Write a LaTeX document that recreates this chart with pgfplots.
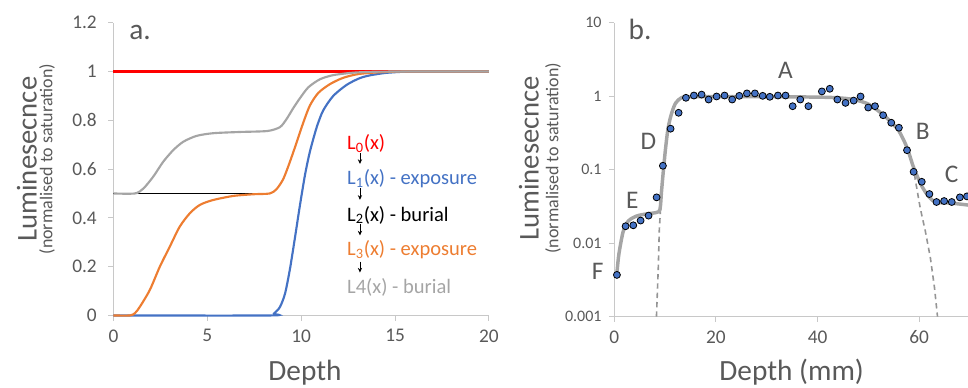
\documentclass[border=0pt]{standalone}
\usepackage{pgfplots}
\pgfplotsset{compat=1.18}
\usepackage{fontspec}
\setmainfont{Carlito}
\usetikzlibrary{arrows.meta}
\definecolor{axgray}{HTML}{C8C8C8}
\definecolor{txtgray}{HTML}{595959}
\definecolor{xlblue}{HTML}{4472C4}
\definecolor{xlorange}{HTML}{ED7D31}
\definecolor{xlgray}{HTML}{A5A5A5}
\definecolor{xlred}{HTML}{FF0000}
\definecolor{dashgray}{HTML}{959595}
\pgfplotsset{mystyle/.style={
  scale only axis, axis lines=left, axis line style={axgray, line width=0.8pt, -},
  tick align=outside, major tick length=4pt, tick style={axgray, line width=0.8pt},
  tick label style={text=txtgray, font=\fontsize{14.5}{17}\selectfont},
  xticklabel style={yshift=-3pt},
  /pgf/number format/assume math mode=true,
  clip=false,
}}
\pgfplotstableread{
x y
0 0
8.3 0
8.55 0.008
8.87 0.035
9.14 0.09
9.4 0.19
9.67 0.32
9.93 0.45
10.2 0.575
10.46 0.67
10.82 0.77
11.17 0.84
11.71 0.90
12.42 0.945
13.1 0.972
13.66 0.984
14.5 0.994
15.5 0.999
16.5 1
20 1
}\blueL
\pgfplotstableread{
x y
0 0
0.88 0
1.15 0.01
1.41 0.036
1.94 0.105
2.47 0.2
3.0 0.282
3.53 0.364
4.07 0.419
4.6 0.453
5.3 0.473
6.4 0.49
7.5 0.497
8.33 0.5
8.69 0.518
9.05 0.56
9.4 0.63
9.76 0.71
10.11 0.79
10.46 0.86
10.91 0.912
11.53 0.948
12.24 0.974
13.1 0.99
14.5 0.998
16 1
20 1
}\orangeL
\pgfplotstableread{
x y
0 0.5
1.14 0.5
1.59 0.52
2.12 0.569
2.65 0.63
3.19 0.678
3.72 0.712
4.43 0.736
5.32 0.747
6.74 0.752
8.2 0.756
8.87 0.772
9.22 0.805
9.58 0.85
9.93 0.89
10.38 0.935
11.0 0.968
11.71 0.985
12.78 0.995
14 0.999
16 1
20 1
}\grayL
\pgfplotstableread{
x y
0.52 0.0037
2.23 0.017
3.74 0.0175
5.18 0.0203
6.75 0.0237
8.33 0.042
9.57 0.113
11.08 0.361
12.66 0.594
14.1 0.95
15.67 1.02
17.18 1.05
18.56 0.90
20.13 0.99
21.7 1.02
23.2 0.90
24.6 1.01
26.1 1.09
27.67 1.09
29.2 1.01
30.6 0.98
32.2 1.02
33.7 1.02
35.1 0.73
36.6 0.90
38.2 0.73
40.85 1.16
42.4 1.26
43.9 0.90
45.5 0.81
47.1 0.87
48.46 0.99
49.97 0.70
51.3 0.73
52.9 0.55
54.5 0.435
56.0 0.372
57.6 0.184
58.9 0.0935
60.5 0.0684
62.0 0.0466
63.4 0.0363
64.9 0.0374
66.4 0.0363
68.0 0.042
69.4 0.0433
}\pts
\pgfplotstableread{
x y
0.47 0.0036
0.8 0.0062
1.12 0.0087
1.78 0.0146
2.76 0.020
4.4 0.0234
6.37 0.025
8.33 0.0262
9.0 0.029
9.3 0.051
9.65 0.095
10.1 0.197
10.6 0.37
11.3 0.59
12.1 0.81
13.2 0.95
14.5 0.98
20 0.985
30 0.985
40 0.97
44 0.95
47 0.9
50 0.78
52.9 0.56
54.5 0.44
56 0.336
57.6 0.2
58.9 0.107
60.5 0.06
62 0.042
63.4 0.036
66.4 0.035
69.6 0.033
}\fitb
\pgfplotstableread{
x y
8.3 0.001
8.66 0.0046
8.85 0.0146
9.11 0.030
9.42 0.06
9.7 0.1
10.1 0.197
}\dashL
\pgfplotstableread{
x y
57.6 0.2
58.9 0.107
59.2 0.075
60.2 0.030
61.2 0.0146
62.2 0.0063
63.0 0.0025
63.6 0.001
}\dashR
\begin{document}
\begin{tikzpicture}
% ---------- panel a ----------
\begin{axis}[mystyle,
  at={(85.1pt,54.4pt)}, anchor=south west,
  width=281.6pt, height=219.6pt,
  xmin=0, xmax=20, ymin=0, ymax=1.2,
  xtick={0,5,10,15,20}, ytick={0,0.2,0.4,0.6,0.8,1,1.2},
  yticklabel style={xshift=-5pt},
]
\addplot[xlred, line width=1.6pt] coordinates {(0,1) (20,1)};
\addplot[black, line width=1.4pt] coordinates {(0,0.5) (8.4,0.5)};
\addplot[xlblue, line width=1.6pt, smooth, tension=0.45] table {\blueL};
\addplot[xlorange, line width=1.6pt, smooth, tension=0.45] table {\orangeL};
\addplot[xlgray, line width=1.6pt, smooth, tension=0.45] table {\grayL};
\node[anchor=base west, text=txtgray, font=\fontsize{22}{26}\selectfont] at (axis cs:0.6,1.13) {a.};
\node[rotate=90, text=txtgray, font=\fontsize{21.5}{24}\selectfont] at ([xshift=-64.9pt]rel axis cs:0,0.534) {Luminesecnce};
\node[rotate=90, text=txtgray, font=\fontsize{13.5}{16}\selectfont] at ([xshift=-49.9pt]rel axis cs:0,0.534) {(normalised to saturation)};
\node[anchor=base, text=txtgray, font=\fontsize{22}{26}\selectfont] at ([yshift=-48.5pt]rel axis cs:0.51,0) {Depth};
\begin{scope}[every node/.style={anchor=west, font=\fontsize{15.4}{18}\selectfont}]
\node[text=xlred] at (axis cs:12.2,0.706) {L\textsubscript{0}(x)};
\node[text=xlblue] at (axis cs:12.2,0.562) {L\textsubscript{1}(x) - exposure};
\node[text=black] at (axis cs:12.2,0.412) {L\textsubscript{2}(x) - burial};
\node[text=xlorange] at (axis cs:12.2,0.268) {L\textsubscript{3}(x) - exposure};
\node[text=xlgray] at (axis cs:12.2,0.114) {L4(x) - burial};
\end{scope}
\begin{scope}[-{Stealth[length=3.5pt,width=3.2pt]}, line width=0.6pt]
\draw (axis cs:13.13,0.666) -- (axis cs:13.13,0.621);
\draw (axis cs:13.13,0.523) -- (axis cs:13.13,0.474);
\draw (axis cs:13.13,0.373) -- (axis cs:13.13,0.328);
\draw (axis cs:13.13,0.221) -- (axis cs:13.13,0.176);
\end{scope}
\end{axis}
% ---------- panel b ----------
\begin{axis}[mystyle,
  at={(460.7pt,53.5pt)}, anchor=south west,
  width=265.3pt, height=220.5pt,
  ymode=log, yminorticks=false,
  xmin=0, xmax=69.6, ymin=0.001, ymax=10,
  xtick={0,20,40,60},
  ytick={0.001,0.01,0.1,1,10}, yticklabels={0.001,0.01,0.1,1,10},
  yticklabel style={font=\fontsize{12}{14}\selectfont, xshift=-2pt},
]
\addplot[dashgray, line width=1.2pt, dash pattern=on 4pt off 3pt] table {\dashL};
\addplot[dashgray, line width=1.2pt, dash pattern=on 4pt off 3pt] table {\dashR};
\addplot[xlgray, line width=2.6pt, smooth, tension=0.5] table {\fitb};
\addplot[only marks, mark=*, mark size=2.6pt, mark options={fill=xlblue, draw=black, line width=0.6pt}] table {\pts};
\node[anchor=base west, text=txtgray, font=\fontsize{22}{26}\selectfont] at (axis cs:1.9,5.9) {b.};
\begin{scope}[every node/.style={text=txtgray, font=\fontsize{19}{22}\selectfont}]
\node at (axis cs:33.7,2.26) {A};
\node at (axis cs:60.7,0.327) {B};
\node at (axis cs:66.4,0.086) {C};
\node at (axis cs:6.7,0.244) {D};
\node at (axis cs:3.54,0.0385) {E};
\node at (axis cs:-3.27,0.0041) {F};
\end{scope}
\node[rotate=90, text=txtgray, font=\fontsize{21.5}{24}\selectfont] at ([xshift=-64pt]rel axis cs:0,0.539) {Luminesecnce};
\node[rotate=90, text=txtgray, font=\fontsize{13.5}{16}\selectfont] at ([xshift=-46pt]rel axis cs:0,0.539) {(normalised to saturation)};
\node[anchor=base, text=txtgray, font=\fontsize{22}{26}\selectfont] at ([yshift=-48pt]axis cs:34.9,0.001) {Depth (mm)};
\end{axis}
\pgfresetboundingbox
\path[use as bounding box] (0,0) rectangle (726pt,291pt);
\end{tikzpicture}
\end{document}
